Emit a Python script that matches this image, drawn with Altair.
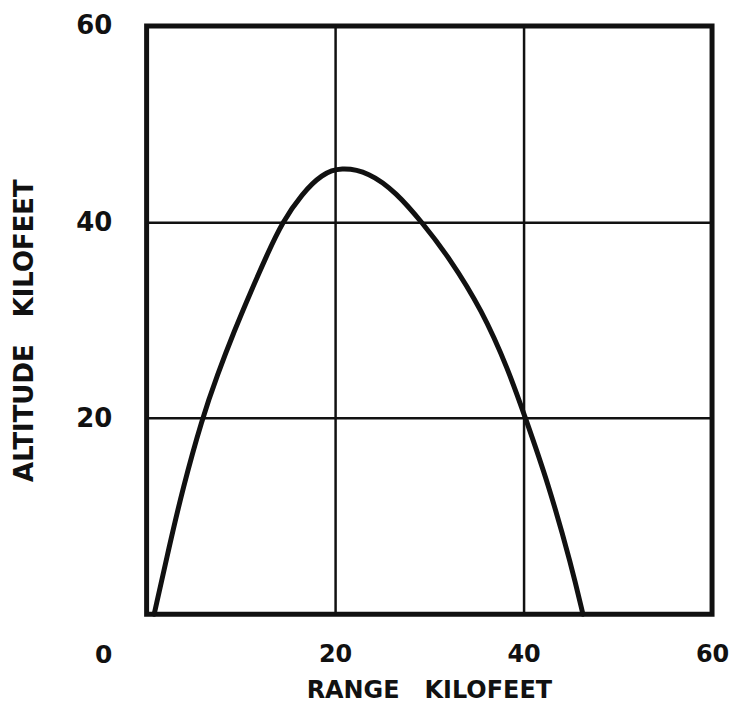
import altair as alt
import pandas as pd

# Trajectory (range kft, altitude kft)
range_kft = [0.8, 2.4, 3.8, 5.9, 7.5, 9.3, 11.1, 12.7, 14.4, 16.5, 18.6, 20.6,
             23.6, 26.5, 29.2, 32.1, 35.6, 38.4, 40.2, 42.6, 45.1, 46.3]
altitude_kft = [0.0, 6.9, 12.7, 20.0, 24.4, 28.9, 33.0, 36.5, 40.0, 42.9, 44.9, 45.6,
                45.1, 43.0, 40.0, 36.4, 31.0, 24.9, 20.0, 13.4, 4.9, 0.0]

x_ticks = [20, 40, 60]
y_ticks = [20, 40, 60]
origin_label = ["0"]

FONT = "DejaVu Sans"
INK = "#111111"

df = pd.DataFrame({"range": range_kft, "alt": altitude_kft})

curve = alt.Chart(df).mark_line(
    color=INK, strokeWidth=5, interpolate="basis", strokeCap="round"
).encode(
    x=alt.X(
        "range:Q",
        scale=alt.Scale(domain=[0, 60], nice=False, zero=False),
        axis=alt.Axis(
            values=x_ticks,
            title="RANGE\u00a0\u00a0\u00a0KILOFEET",
            grid=True, gridColor=INK, gridWidth=2.5, gridOpacity=1,
            domain=False, ticks=False, tickSize=0,
            labelPadding=28, labelFlush=False, labelOverlap=False,
            labelFont=FONT, labelFontSize=24, labelFontWeight="bold", labelColor=INK,
            titleFont=FONT, titleFontSize=24, titleFontWeight="bold", titleColor=INK,
            titleX=283, titleY=76, titleBaseline="middle", titleAlign="center",
        ),
    ),
    y=alt.Y(
        "alt:Q",
        scale=alt.Scale(domain=[0, 60], nice=False, zero=False),
        axis=alt.Axis(
            values=y_ticks,
            title="ALTITUDE\u00a0\u00a0\u00a0KILOFEET",
            grid=True, gridColor=INK, gridWidth=2.5, gridOpacity=1,
            domain=False, ticks=False, tickSize=0,
            labelPadding=35, labelFlush=False, labelOverlap=False,
            labelFont=FONT, labelFontSize=26, labelFontWeight="bold", labelColor=INK,
            titleFont=FONT, titleFontSize=26, titleFontWeight="bold", titleColor=INK,
            titleAngle=270, titleX=-122, titleY=305, titleBaseline="middle", titleAlign="center",
        ),
    ),
)

zero = alt.Chart(pd.DataFrame({"t": origin_label})).mark_text(
    font=FONT, fontSize=25, fontWeight="bold", color=INK,
    align="center", baseline="middle"
).encode(text="t:N", x=alt.value(-43), y=alt.value(631))

chart = alt.layer(curve, zero).properties(
    width=567,
    height=590,
    autosize=alt.AutoSizeParams(type="none"),
    padding={"left": 139, "top": 17, "right": 17, "bottom": 90},
).configure(
    background="white",
    view=alt.ViewConfig(stroke=INK, strokeWidth=5),
)

chart.save("out.html", embed_options={"renderer": "svg", "actions": False})
